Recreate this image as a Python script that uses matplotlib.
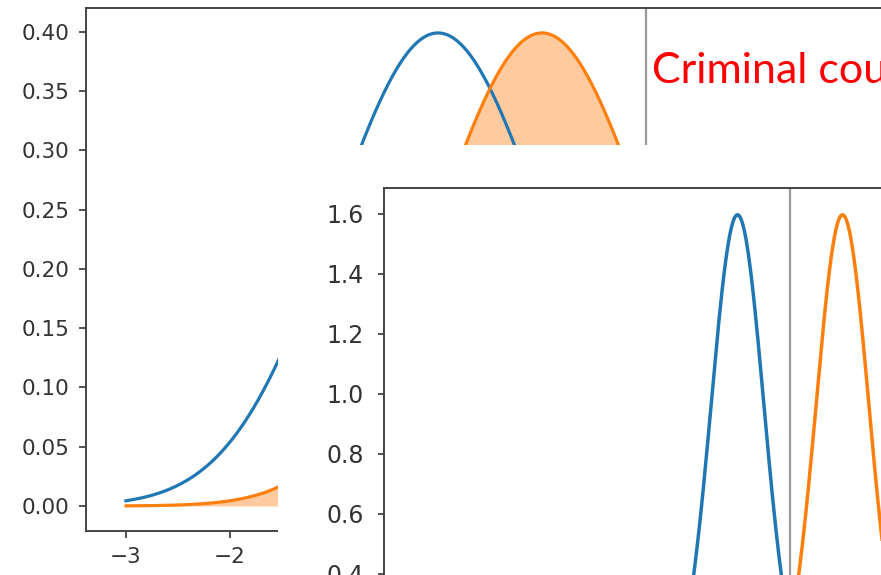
import numpy as np
import matplotlib.pyplot as plt
from matplotlib.patches import Rectangle

# two normal densities, wide and narrow versions
x = np.linspace(-3, 5, 800)
mu_blue, mu_orange = 0.0, 1.0
sigma_wide = 1.0
sigma_narrow = 0.25
cut_main = 2.0
cut_inset = 0.5
main_xticks = [-3, -2]
main_yticks = [0.00, 0.05, 0.10, 0.15, 0.20, 0.25, 0.30, 0.35, 0.40]
inset_yticks = [0.4, 0.6, 0.8, 1.0, 1.2, 1.4, 1.6]
label_text = "Criminal court"


def pdf(v, mu, s):
    return np.exp(-0.5 * ((v - mu) / s) ** 2) / (s * np.sqrt(2 * np.pi))


W, H = 881, 575
fig = plt.figure(figsize=(W / 100, H / 100), dpi=100)


def px_axes(l, t, r, b, **kw):
    return fig.add_axes([l / W, 1 - b / H, (r - l) / W, (b - t) / H], **kw)


def style(ax, size, pad, length):
    for s in ax.spines.values():
        s.set_color('#444444')
        s.set_linewidth(1.4)
    ax.tick_params(labelsize=size, pad=pad, length=length, width=1.3,
                   color='#444444', labelcolor='#333333')


# background plot
sx = 104.0
x0 = -3 - (126 - 86) / sx
x1 = 5.4
ax = px_axes(86, 7.5, 86 + (x1 - x0) * sx, 530.7)
y_blue = pdf(x, mu_blue, sigma_wide)
y_orange = pdf(x, mu_orange, sigma_wide)
ax.plot(x, y_blue, color='C0', lw=2.3)
ax.plot(x, y_orange, color='C1', lw=2.3)
ax.fill_between(x, y_orange, where=x <= cut_main, color='C1', alpha=0.4, lw=0)
ax.axvline(cut_main, color='#999999', lw=1.6)
ax.set_xlim(x0, x1)
ax.set_ylim(-(530.7 - 506) / 1187, 0.40 + (31.7 - 7.5) / 1187)
ax.set_yticks(main_yticks)
ax.set_xticks(main_xticks)
style(ax, 15.5, 7, 5)

fig.text(652 / W, 1 - 83 / H, label_text, color='red', fontsize=31,
         family='Lato', va='baseline', ha='left')

# white panel with the narrow version on top
fig.add_artist(Rectangle((278 / W, 0), 1 - 278 / W, 1 - 145 / H,
                         transform=fig.transFigure, facecolor='white',
                         edgecolor='none', zorder=2))

sx2 = 105.0
sy2 = 300.0
ix0 = 0 - (737.5 - 383.5) / sx2
ix1 = 5.4
ylo = -0.08
yhi = 1.6 + (213.5 - 188) / sy2
ax2 = px_axes(383.5, 188, 383.5 + (ix1 - ix0) * sx2, 188 + (yhi - ylo) * sy2)
ax2.set_zorder(3)
ax2.plot(x, pdf(x, mu_blue, sigma_narrow), color='C0', lw=2.5)
ax2.plot(x, pdf(x, mu_orange, sigma_narrow), color='C1', lw=2.5)
ax2.axvline(cut_inset, color='#999999', lw=1.6)
ax2.set_xlim(ix0, ix1)
ax2.set_ylim(ylo, yhi)
ax2.set_yticks(inset_yticks)
ax2.set_yticklabels([f"{v:.1f}" for v in inset_yticks])
ax2.tick_params(axis='x', labelbottom=False)
style(ax2, 17, 10, 4.3)

fig.savefig('out.png', dpi=100)
